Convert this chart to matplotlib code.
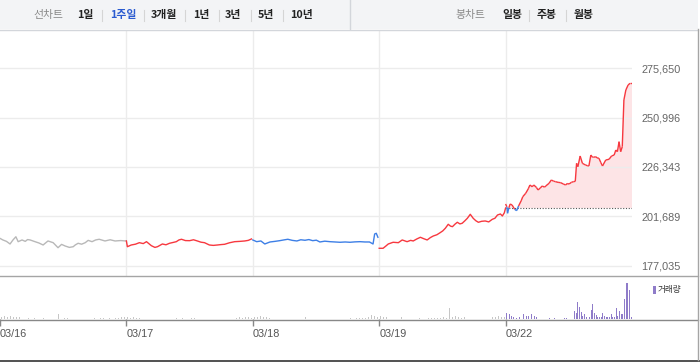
import matplotlib
matplotlib.use('Agg')
import numpy as np
import matplotlib.pyplot as plt
from matplotlib.collections import LineCollection
from matplotlib.lines import Line2D
from matplotlib.patches import Rectangle

# price data: (minutes since open, price) for each trading day
dates = ['03/16', '03/17', '03/18', '03/19', '03/22']

day0 = [(0, 190800), (9, 190000), (20, 189300), (31, 188000), (40, 190000), (49, 191600),
        (56, 189150), (68, 190000), (78, 189300), (85, 190200), (93, 190000), (108, 189150),
        (120, 188500), (133, 187500), (148, 189500), (164, 188650), (179, 186150), (190, 187800),
        (201, 187000), (214, 186300), (226, 186650), (232, 187500), (241, 188350), (252, 187900),
        (263, 188650), (272, 189800), (284, 189150), (295, 190000), (306, 190350), (324, 189500),
        (340, 190100), (355, 189500), (372, 189700), (389, 189500)]

day1 = [(0, 189500), (3, 186650), (15, 187500), (28, 187900), (40, 188650), (52, 188200),
        (62, 189150), (77, 187150), (88, 186300), (96, 186650), (111, 188000), (122, 187600),
        (133, 188350), (145, 188800), (154, 189150), (162, 190000), (170, 190350), (182, 189700),
        (195, 189650), (207, 190100), (219, 189500), (230, 188900), (241, 188650), (256, 187500),
        (268, 187300), (281, 187500), (292, 187700), (303, 187850), (318, 188600), (334, 189150),
        (350, 189300), (365, 189500), (376, 189800), (386, 190500)]

day2 = [(0, 190000), (12, 189150), (25, 189500), (37, 188000), (53, 189000), (68, 189300),
        (83, 189650), (95, 190000), (108, 190350), (122, 189800), (136, 189500), (148, 190100),
        (161, 189850), (173, 190200), (185, 189650), (196, 189900), (207, 189000), (222, 189400),
        (238, 189150), (254, 189000), (269, 188850), (285, 189000), (300, 188850), (315, 189050),
        (331, 189150), (346, 189000), (360, 189000), (371, 188000), (376, 192980), (381, 193330),
        (386, 191340)]

day3 = [(0, 185860), (12, 185860), (20, 186900), (28, 188000), (43, 188850), (59, 188650),
        (71, 190000), (86, 189150), (97, 189800), (105, 189500), (116, 190500), (127, 191340),
        (138, 190600), (148, 190000), (158, 191200), (167, 191990), (178, 192600), (188, 193630),
        (196, 194500), (204, 195820), (213, 197810), (220, 196900), (226, 196620), (234, 197900),
        (241, 198810), (249, 198000), (256, 198310), (264, 199500), (272, 200800), (281, 202790),
        (290, 200800), (298, 199600), (306, 198810), (316, 199300), (327, 199460), (338, 199000),
        (349, 200300), (357, 200800), (365, 202440), (374, 202940), (380, 201950), (386, 203500),
        (390, 205930)]

day4 = [(0, 207920), (4, 206500), (6, 203290), (10, 206000), (14, 207920), (20, 207420),
        (28, 205280), (34, 204590), (40, 206930), (48, 209500), (53, 211560), (62, 213250),
        (70, 215500), (75, 217380), (82, 216500), (87, 217380), (95, 216200), (100, 214890),
        (107, 215900), (113, 216890), (120, 216300), (124, 216890), (134, 218230), (141, 219870),
        (148, 219300), (154, 219030), (162, 218700), (170, 218530), (178, 217900), (185, 217380),
        (190, 218100), (196, 217880), (203, 218700), (209, 219030), (215, 219200), (219, 228190),
        (223, 226500), (230, 231830), (237, 228190), (242, 227700), (247, 227340), (252, 227000),
        (257, 226850), (263, 232320), (268, 231200), (271, 231180), (278, 231480), (282, 230900),
        (288, 230680), (294, 228500), (299, 226850), (309, 229830), (319, 230180), (327, 231830),
        (335, 232320), (340, 234810), (345, 233970), (350, 238950), (355, 233970), (360, 236460),
        (365, 259710), (371, 264690), (378, 267180), (384, 268030), (390, 268030)]

prev_close = 205930
yticks = [177035, 201689, 226343, 250996, 275650]

# volume (thousand shares), evenly spaced through each session
vol0 = [2.5, 3, 2, 3, 2.5, 2, 2, 0, 0, 1, 0, 1, 0, 0, 1, 0, 0, 0, 0, 5.5, 0, 1.5, 1, 0, 0, 0,
        0, 0, 0, 0, 0, 1.5, 0, 1, 1.5, 0, 1, 0, 1.5, 1.5, 2, 2]
vol1 = [2, 1.5, 2, 1, 1.5, 0, 0, 0, 0, 0, 2, 0, 0, 0, 0, 0, 1.5, 0, 1.5, 0, 0, 1, 1, 0, 0, 0,
        0, 0, 0, 0, 0, 0, 0, 0, 0, 0, 1, 2, 1.5, 2, 2.5, 1.5]
vol2 = [2.5, 2, 3, 2.5, 2, 1.5, 0, 0, 0, 0, 0, 0, 0, 0, 0, 0, 0, 2, 0, 0, 0, 0, 0, 0, 0, 0,
        0, 0, 0, 0, 0, 0, 1, 0, 1, 1.5, 1, 1.5, 2, 4, 3, 2]
vol3 = [3, 2, 2.5, 0, 0, 0, 0, 2, 0, 0, 0, 0, 0, 1.5, 0, 0, 1, 1.5, 1, 1.5, 1, 2, 1.5, 11, 2, 3,
        2, 1.5, 2.5, 3, 2, 2.5, 5, 2, 0, 0, 0, 2, 2.5, 3, 2, 2.5]
vol4 = [6, 0, 5, 3, 2, 0, 1, 0, 2, 0, 5, 0, 3, 3, 0, 5, 0, 3, 2, 0, 0, 0, 0, 0, 0, 0, 1, 0, 0,
        1, 0, 1, 0, 0, 0, 1, 1, 0, 0, 0, 0, 8.3, 5.7, 17, 12.3, 6.7, 3, 4.7, 2.3, 0, 2.3, 9,
        15.3, 6.3, 4, 2.3, 2.3, 2.3, 6.3, 3, 2.3, 1.7, 2.3, 4.7, 1.7, 2.3, 10.7, 3, 8.3, 4.7,
        4.7, 20, 36.3, 36.3, 29, 2.3]

RED = '#f7383f'
BLUE = '#3d7fe6'
GRAY = '#b8b8b8'
NUM_FONT = 'Liberation Sans'
KR_FONT = ['Noto Sans CJK KR', 'DejaVu Sans']

W, H = 700, 362
fig = plt.figure(figsize=(7, 3.62), dpi=100)


def fx(x):
    return x / W


def fy(y):
    return 1 - y / H


# header bar
fig.patches.append(Rectangle((0, fy(29)), fx(698), 29 / H, transform=fig.transFigure,
                             facecolor='#f3f4f6', edgecolor='none', zorder=0))
fig.lines.append(Line2D([0, fx(698)], [fy(29.5), fy(29.5)], transform=fig.transFigure,
                        color='#d3d6db', lw=1))
fig.lines.append(Line2D([fx(350), fx(350)], [fy(0), fy(29)], transform=fig.transFigure,
                        color='#d3d6db', lw=1))

header = [('선차트', 33, '#888888', 'normal'), ('1일', 77, '#222222', 'bold'),
          ('1주일', 110, '#2b5bd0', 'bold'), ('3개월', 151, '#222222', 'bold'),
          ('1년', 193, '#222222', 'bold'), ('3년', 225, '#222222', 'bold'),
          ('5년', 258, '#222222', 'bold'), ('10년', 290, '#222222', 'bold'),
          ('봉차트', 455, '#888888', 'normal'), ('일봉', 502, '#222222', 'bold'),
          ('주봉', 537, '#222222', 'bold'), ('월봉', 574, '#222222', 'bold')]
for label, x, c, w in header:
    fig.text(fx(x), fy(15), label, ha='left', va='center', fontsize=7.8,
             color=c, fontweight=w, family=KR_FONT)
for x in [102, 144, 185, 219, 251, 283, 529, 566]:
    fig.lines.append(Line2D([fx(x), fx(x)], [fy(10), fy(21)], transform=fig.transFigure,
                            color='#d5d5d5', lw=0.8))

# price panel
px_per = (yticks[-1] - yticks[0]) / 198.0
ax = fig.add_axes([0, fy(276), fx(632), 246 / H])
ax.set_xlim(0, 5)
ax.set_ylim(yticks[0] - 10 * px_per, yticks[-1] + 38 * px_per)
for s in ax.spines.values():
    s.set_visible(False)
ax.set_yticks(yticks)
ax.set_yticklabels([f'{v:,}' for v in yticks], fontfamily=NUM_FONT)
ax.yaxis.tick_right()
ax.tick_params(axis='y', length=0, pad=6.5, labelsize=7.8, labelcolor='#666666')
ax.set_xticks([])
ax.yaxis.grid(True, color='#ececec', lw=1)
for d in range(1, 5):
    ax.axvline(d, color='#ececec', lw=1, zorder=0)

days = [day0, day1, day2, day3]
colors = [GRAY, RED, BLUE, RED]
for i, (d, c) in enumerate(zip(days, colors)):
    m, p = np.array(d, dtype=float).T
    ax.plot(i + m / 390.0, p, color=c, lw=1.0, zorder=3)

m4, p4 = np.array(day4, dtype=float).T
t4 = 4 + m4 / 390.0
ax.fill_between(t4, p4, prev_close, where=p4 >= prev_close, interpolate=True,
                color='#fde4e6', lw=0, zorder=1)
ax.fill_between(t4, p4, prev_close, where=p4 < prev_close, interpolate=True,
                color='#e2ebfb', lw=0, zorder=1)
ax.plot([4, 5], [prev_close, prev_close], color='#555555', lw=0.8, ls=(0, (1, 1.5)), zorder=2)
segs = np.stack([np.column_stack([t4[:-1], p4[:-1]]), np.column_stack([t4[1:], p4[1:]])], axis=1)
seg_col = [RED if (a + b) / 2 >= prev_close else BLUE for a, b in zip(p4[:-1], p4[1:])]
ax.add_collection(LineCollection(segs, colors=seg_col, lw=1.0, zorder=3))

# volume panel
vax = fig.add_axes([0, fy(319), fx(632), 42 / H])
vax.set_xlim(0, 5)
vax.set_ylim(0, 42)
for s in vax.spines.values():
    s.set_visible(False)
vax.set_yticks([])
for i, v in enumerate([vol0, vol1, vol2, vol3, vol4]):
    n = len(v)
    t = i + (np.arange(n) + 0.5) / n
    vax.bar(t, v, width=0.0075, color='#8f7cc9' if i == 4 else '#c6c6c6', lw=0)
vax.set_xticks(range(5))
vax.set_xticklabels(dates, fontfamily=NUM_FONT, ha='left')
vax.tick_params(axis='x', direction='out', length=5, width=1, color='#888888',
                labelsize=7.8, labelcolor='#555555', pad=2.5)

# legend
fig.patches.append(Rectangle((fx(653), fy(294)), fx(3), 8 / H, transform=fig.transFigure,
                             facecolor='#8f7cc9', edgecolor='none'))
fig.text(fx(658), fy(289.5), '거래량', ha='left', va='center', fontsize=6.2,
         color='#333333', family=KR_FONT)

# frame lines
fig.lines.append(Line2D([0, fx(698)], [fy(276), fy(276)], transform=fig.transFigure,
                        color='#a5a5a5', lw=1))
fig.lines.append(Line2D([0, fx(698)], [fy(319.5), fy(319.5)], transform=fig.transFigure,
                        color='#888888', lw=1))
fig.lines.append(Line2D([fx(698), fx(698)], [fy(29), fy(360)], transform=fig.transFigure,
                        color='#a5a5a5', lw=1))
fig.patches.append(Rectangle((0, 0), 1, 2 / H, transform=fig.transFigure,
                             facecolor='#555555', edgecolor='none'))

fig.savefig('out.png', dpi=100)
